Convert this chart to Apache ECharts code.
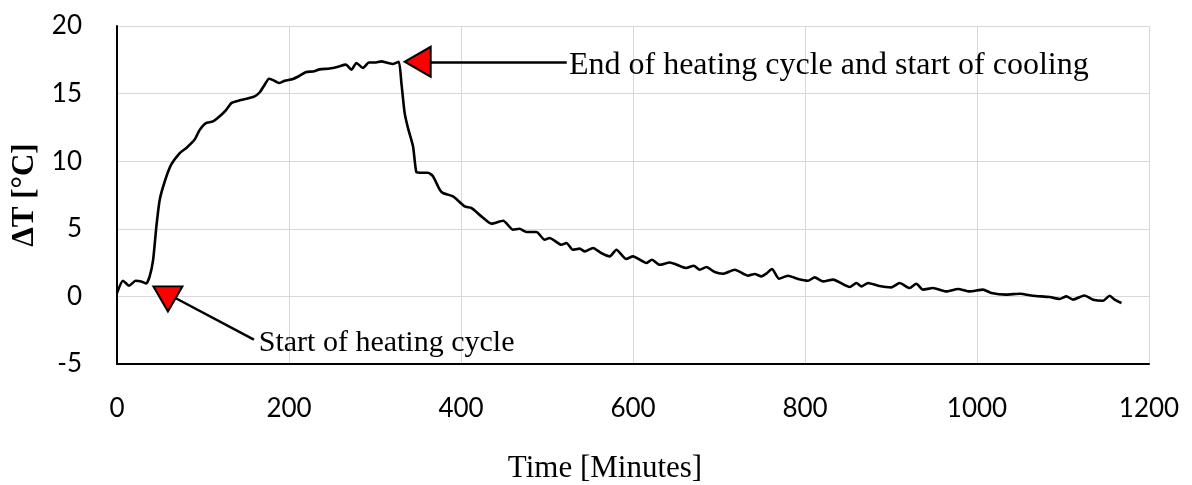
<!DOCTYPE html>
<html>
<head>
<meta charset="utf-8">
<title>Temperature difference over time</title>
<script src="https://cdn.jsdelivr.net/npm/echarts@6/dist/echarts.min.js"></script>
<style>
  html, body { margin: 0; padding: 0; background: #fff; }
  #chart { width: 1192px; height: 485px; }
</style>
</head>
<body>
<div id="chart"></div>
<script>
// Time since start of the test [minutes]
const timeMin = [
  0, 7, 14, 21.7, 28, 34, 38, 42, 45.8, 49.7, 55.5, 63, 73, 80.7, 90.3, 96, 103, 111.6,
  121.4, 127, 133, 142.7, 150.5, 160, 166, 171.7, 176.8, 181.4, 189, 195, 204.6, 212.4,
  220, 228, 235.7, 247.3, 257, 266, 272.6, 278.4, 286, 293, 299.7, 307.4, 313.3, 321,
  327.6, 330.7, 334.5, 338.4, 344.2, 348, 352, 361.6, 367.4, 375.2, 379, 390.7, 404.3,
  412, 423.7, 435.3, 449, 460.5, 468, 476, 487.7, 497.3, 503, 516.7, 522.6, 530, 538,
  544, 553.5, 563, 573, 580.7, 592, 600, 615.5, 622, 631, 642.7, 662, 670.6, 677.6,
  685.3, 695, 704.7, 718.3, 733.7, 741.5, 749.3, 755, 761.6, 769.8, 780.2, 791.9, 803.5,
  811.3, 821, 832.6, 852, 859.8, 865.6, 873.3, 885, 900.5, 910, 921.7, 929.4, 937.2,
  948.8, 964.3, 977.9, 991.5, 1007, 1016.7, 1034, 1050, 1065, 1084.5, 1096, 1104,
  1111.6, 1125, 1135, 1146.5, 1154.3, 1160, 1168
];

// Temperature difference ΔT [°C]
const deltaT = [
  0.25, 1.16, 0.79, 1.16, 1.11, 0.96, 1.48, 2.7, 5.18, 7.15, 8.5, 9.74, 10.6, 10.98, 11.6,
  12.3, 12.8, 12.94, 13.44, 13.8, 14.3, 14.5, 14.62, 14.8, 15.1, 15.66, 16.1, 16.0, 15.78,
  15.95, 16.08, 16.32, 16.6, 16.64, 16.79, 16.86, 16.99, 17.14, 16.77, 17.26, 16.9, 17.3,
  17.3, 17.38, 17.3, 17.19, 17.36, 15.78, 13.56, 12.45, 11.1, 9.2, 9.15, 9.15, 8.88, 7.9,
  7.65, 7.4, 6.66, 6.54, 5.92, 5.38, 5.6, 4.93, 5.0, 4.76, 4.76, 4.19, 4.32, 3.82, 3.95,
  3.45, 3.53, 3.33, 3.58, 3.21, 2.96, 3.45, 2.77, 2.96, 2.47, 2.71, 2.34, 2.51, 2.1, 2.27,
  1.97, 2.17, 1.8, 1.68, 1.97, 1.53, 1.66, 1.48, 1.68, 2.03, 1.31, 1.53, 1.29, 1.16, 1.41,
  1.11, 1.24, 0.7, 0.99, 0.74, 0.99, 0.79, 0.67, 0.99, 0.62, 0.94, 0.5, 0.62, 0.37, 0.55,
  0.37, 0.5, 0.25, 0.13, 0.2, 0.05, -0.05, -0.19, 0.0, -0.24, 0.07, -0.24, -0.32, 0.05,
  -0.24, -0.49
];

// Axis ranges and steps
const xRange = [0, 1200, 200];
const yRange = [-5, 20, 5];

// Annotation texts
const startLabel = 'Start of heating cycle';
const endLabel = 'End of heating cycle and start of cooling';

// Annotation anchors in data units [minutes, °C]
const startMarker = [59.2, -0.18];
const startArrow = [[67.3, -0.1], [159.2, -3.2]];
const startText = [164.8, -3.46];
const endMarker = [349.7, 17.36];
const endArrow = [[365, 17.33], [523, 17.33]];
const endText = [525.5, 17.1];

const seriesData = timeMin.map((t, i) => [t, deltaT[i]]);

const serif = '"Liberation Serif", "Times New Roman", serif';
const sans = 'Lato, "Open Sans", sans-serif';

const chart = echarts.init(document.getElementById('chart'), null, { renderer: 'canvas' });

const textPoint = (coord, text, size) => ({
  coord: coord,
  symbol: 'circle',
  symbolSize: 0,
  itemStyle: { color: 'transparent', borderWidth: 0 },
  label: {
    show: true,
    position: [0, 0],
    align: 'left',
    verticalAlign: 'middle',
    formatter: text,
    fontFamily: serif,
    fontSize: size,
    color: '#000'
  }
});

const triangleStyle = { color: '#ff0000', borderColor: '#000', borderWidth: 2 };

chart.setOption({
  animation: false,
  backgroundColor: '#fff',
  grid: {
    left: 117, right: 43, top: 26, bottom: 121,
    containLabel: false,
    outerBoundsMode: 'none'
  },
  xAxis: {
    type: 'value',
    min: xRange[0], max: xRange[1], interval: xRange[2],
    name: 'Time [Minutes]',
    nameLocation: 'middle',
    nameGap: 89,
    nameTextStyle: { fontFamily: serif, fontSize: 31, color: '#000', padding: [0, 56, 0, 0] },
    axisLine: { show: true, onZero: false, lineStyle: { color: '#000', width: 2 } },
    axisTick: { show: false },
    axisLabel: { margin: 32, fontFamily: sans, fontSize: 26, color: '#000',
                 formatter: v => String(v) },
    splitLine: { show: true, lineStyle: { color: '#d9d9d9', width: 1 } }
  },
  yAxis: {
    type: 'value',
    min: yRange[0], max: yRange[1], interval: yRange[2],
    name: 'ΔT [°C]',
    nameLocation: 'middle',
    nameGap: 74,
    nameRotate: 90,
    nameTextStyle: { fontFamily: serif, fontSize: 31, fontWeight: 'bold', color: '#000' },
    axisLine: { show: true, onZero: false, lineStyle: { color: '#000', width: 2 } },
    axisTick: { show: false },
    axisLabel: { margin: 35, fontFamily: sans, fontSize: 26, color: '#000',
                 formatter: v => String(v) },
    splitLine: { show: true, lineStyle: { color: '#d9d9d9', width: 1 } }
  },
  series: [{
    type: 'line',
    data: seriesData,
    showSymbol: false,
    smooth: 0.2,
    lineStyle: { color: '#000', width: 2.6 },
    markLine: {
      silent: true,
      symbol: 'none',
      lineStyle: { color: '#000', width: 2.5, type: 'solid' },
      label: { show: false },
      data: [
        [{ coord: startArrow[0] }, { coord: startArrow[1] }],
        [{ coord: endArrow[0] }, { coord: endArrow[1] }]
      ]
    },
    markPoint: {
      silent: true,
      data: [
        { coord: startMarker, symbol: 'triangle', symbolSize: [29, 25], symbolRotate: 180,
          itemStyle: triangleStyle, label: { show: false } },
        { coord: endMarker, symbol: 'triangle', symbolSize: [30, 26], symbolRotate: 90,
          itemStyle: triangleStyle, label: { show: false } },
        textPoint(startText, startLabel, 30),
        textPoint(endText, endLabel, 32)
      ]
    }
  }]
});
</script>
</body>
</html>
